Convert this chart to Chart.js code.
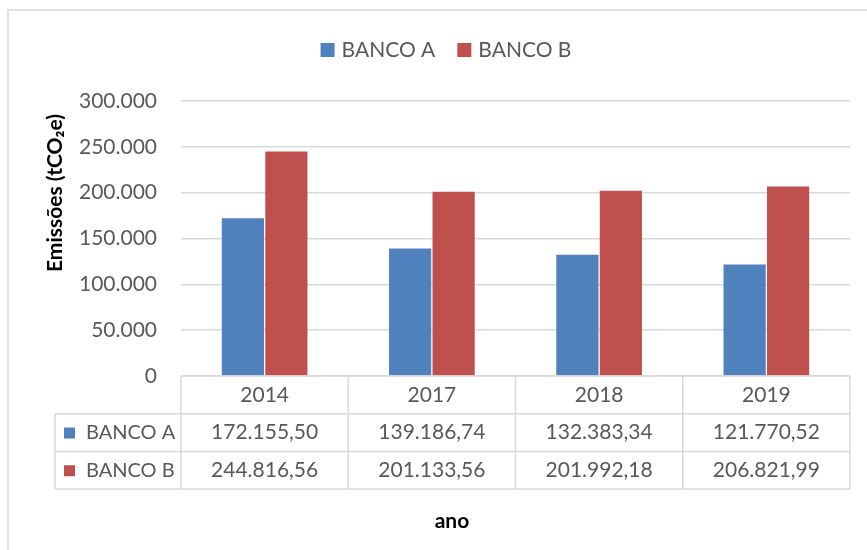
<!DOCTYPE html>
<html>
<head>
<meta charset="utf-8">
<script src="https://cdn.jsdelivr.net/npm/chart.js@4/dist/chart.umd.min.js"></script>
<style>
  body { margin: 0; background: #fff; }
  #wrap { width: 867px; height: 550px; }
</style>
</head>
<body>
<div id="wrap"><canvas id="grafico" width="867" height="550"></canvas></div>
<script>
// dados do gráfico
const anos = ['2014', '2017', '2018', '2019'];
const bancoA = [172155.50, 139186.74, 132383.34, 121770.52];
const bancoB = [244816.56, 201133.56, 201992.18, 206821.99];
const series = ['BANCO A', 'BANCO B'];
const cores = ['#4F81BD', '#C0504D'];
const yMax = 300000;
const yPasso = 50000;

const fonte = 'Lato, "Open Sans", sans-serif';
const cinzaTexto = '#595959';
const cinzaLinha = '#D9D9D9';

// formata no padrão pt-BR (milhar com ponto, decimal com vírgula)
function formatarNumero(valor, casas) {
    const partes = valor.toFixed(casas).split('.');
    const inteiro = partes[0].replace(/\B(?=(\d{3})+(?!\d))/g, '.');
    return partes.length > 1 ? inteiro + ',' + partes[1] : inteiro;
}

// moldura, legenda, títulos e tabela de dados
const tabelaPlugin = {
    id: 'tabela',
    beforeDraw(chart) {
        const ctx = chart.ctx;
        ctx.save();
        ctx.strokeStyle = cinzaLinha;
        ctx.lineWidth = 1.5;
        ctx.strokeRect(8, 10, 900, 600);
        ctx.restore();
    },
    afterDraw(chart) {
        const ctx = chart.ctx;
        const area = chart.chartArea;
        const xScale = chart.scales.x;
        const linhas = [bancoA, bancoB];

        const yTopo = area.bottom;
        const altLinha = 37.7;
        const xChave = 55;
        const xFim = area.right;

        ctx.save();
        ctx.strokeStyle = cinzaLinha;
        ctx.lineWidth = 1.5;

        // linhas horizontais
        ctx.beginPath();
        ctx.moveTo(area.left, yTopo);
        ctx.lineTo(xFim, yTopo);
        for (let i = 1; i <= 3; i++) {
            ctx.moveTo(xChave, yTopo + altLinha * i);
            ctx.lineTo(xFim, yTopo + altLinha * i);
        }
        // linhas verticais
        ctx.moveTo(xChave, yTopo + altLinha);
        ctx.lineTo(xChave, yTopo + altLinha * 3);
        const passo = (area.right - area.left) / anos.length;
        for (let i = 0; i <= anos.length; i++) {
            const x = area.left + passo * i;
            ctx.moveTo(x, yTopo);
            ctx.lineTo(x, yTopo + altLinha * 3);
        }
        ctx.stroke();

        // textos da tabela
        ctx.font = '21px ' + fonte;
        ctx.fillStyle = cinzaTexto;
        ctx.textBaseline = 'middle';
        ctx.textAlign = 'center';
        anos.forEach((ano, i) => {
            const x = xScale.getPixelForValue(i);
            ctx.fillText(ano, x, yTopo + altLinha * 0.5);
            linhas.forEach((serie, j) => {
                ctx.fillText(formatarNumero(serie[i], 2), x, yTopo + altLinha * (j + 1.5));
            });
        });
        ctx.textAlign = 'left';
        ctx.font = '20px ' + fonte;
        series.forEach((nome, j) => {
            const yc = yTopo + altLinha * (j + 1.5);
            ctx.fillStyle = cores[j];
            ctx.fillRect(64, yc - 5, 11, 11);
            ctx.fillStyle = cinzaTexto;
            ctx.fillText(nome, 86, yc);
        });

        // legenda no topo
        ctx.font = '21px ' + fonte;
        const quad = 14, folga = 7, entre = 22;
        const larguras = series.map(s => ctx.measureText(s).width);
        const total = larguras.reduce((a, b) => a + b, 0) + series.length * (quad + folga) + entre;
        let x = 446 - total / 2;
        series.forEach((nome, j) => {
            ctx.fillStyle = cores[j];
            ctx.fillRect(x, 43, quad, quad);
            ctx.fillStyle = cinzaTexto;
            ctx.fillText(nome, x + quad + folga, 50);
            x += quad + folga + larguras[j] + entre;
        });

        // títulos dos eixos
        ctx.fillStyle = '#000';
        ctx.font = 'bold 21px ' + fonte;
        ctx.textAlign = 'center';
        ctx.fillText('ano', 452, 521);
        ctx.translate(55, 193);
        ctx.rotate(-Math.PI / 2);
        ctx.fillText('Emissões (tCO₂e)', 0, 0);
        ctx.restore();
    }
};

new Chart(document.getElementById('grafico'), {
    type: 'bar',
    data: {
        labels: anos,
        datasets: [
            { label: series[0], data: bancoA, backgroundColor: cores[0] },
            { label: series[1], data: bancoB, backgroundColor: cores[1] }
        ]
    },
    options: {
        responsive: false,
        animation: false,
        layout: { padding: { left: 80, right: 17, top: 101, bottom: 174 } },
        datasets: { bar: { barPercentage: 0.97, categoryPercentage: 0.52 } },
        plugins: {
            legend: { display: false },
            tooltip: { enabled: false }
        },
        scales: {
            x: { display: false },
            y: {
                min: 0,
                max: yMax,
                afterFit: s => { s.width = 101; },
                ticks: {
                    stepSize: yPasso,
                    padding: 24,
                    color: cinzaTexto,
                    font: { family: fonte, size: 21 },
                    callback: v => formatarNumero(v, 0)
                },
                grid: { color: cinzaLinha, lineWidth: 1.5, drawTicks: false },
                border: { display: false }
            }
        }
    },
    plugins: [tabelaPlugin]
});
</script>
</body>
</html>
